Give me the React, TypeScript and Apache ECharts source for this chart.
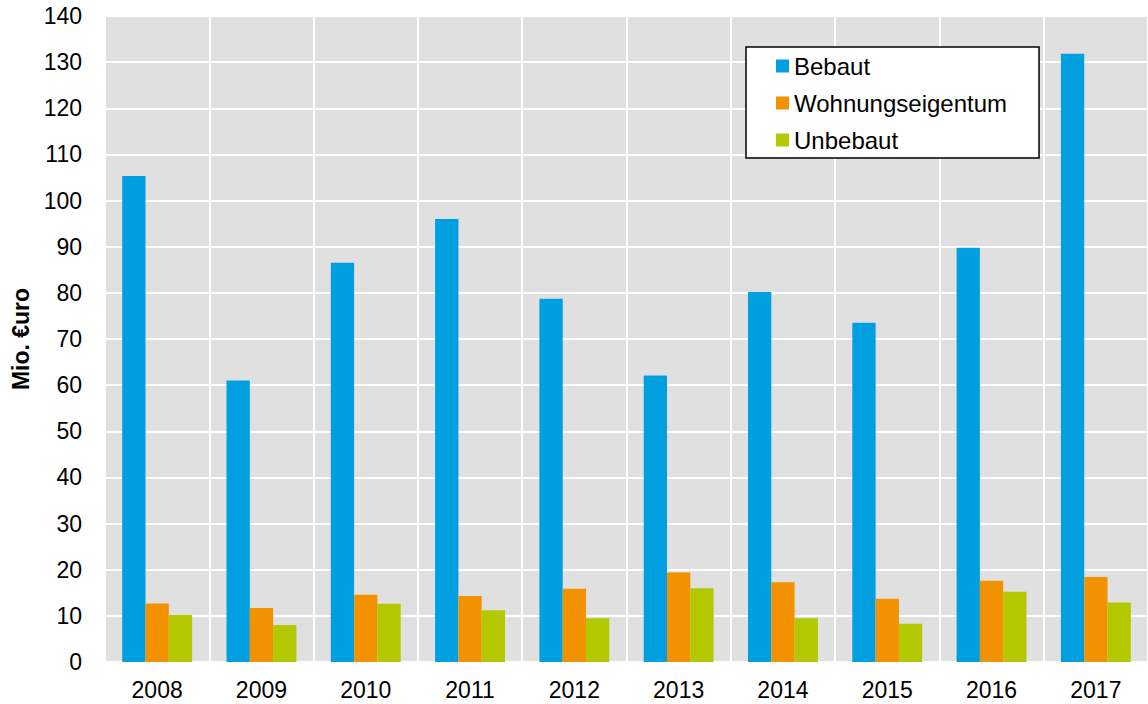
import React, { useEffect, useRef } from "react";
import * as echarts from "echarts";

const years = ["2008", "2009", "2010", "2011", "2012", "2013", "2014", "2015", "2016", "2017"];
const bebaut = [105.3, 61.0, 86.5, 96.0, 78.7, 62.1, 80.2, 73.5, 89.8, 131.8];
const wohnungseigentum = [12.7, 11.7, 14.6, 14.3, 15.9, 19.4, 17.3, 13.7, 17.6, 18.4];
const unbebaut = [10.2, 8.0, 12.6, 11.2, 9.5, 16.0, 9.5, 8.3, 15.2, 12.9];
const seriesNames = ["Bebaut", "Wohnungseigentum", "Unbebaut"];
const colors = ["#009FDF", "#F39200", "#B3C800"];
const yAxisName = "Mio. €uro";

const FONT = "'Liberation Sans', Arial, Helvetica, sans-serif";

export default function App() {
  const ref = useRef<HTMLDivElement>(null);
  useEffect(() => {
    if (!ref.current) return;
    const chart = echarts.init(ref.current, undefined, { renderer: "svg" });
    const data = [bebaut, wohnungseigentum, unbebaut];
    chart.setOption({
      animation: false,
      backgroundColor: "#ffffff",
      textStyle: { fontFamily: FONT },
      grid: {
        left: 105,
        right: 0,
        top: 16,
        bottom: 42,
        show: true,
        backgroundColor: "#E0E0E0",
        borderWidth: 0,
        containLabel: false,
      },
      legend: {
        orient: "vertical",
        left: 746,
        top: 47,
        data: seriesNames,
        icon: "rect",
        itemWidth: 13,
        itemHeight: 13,
        itemGap: 13,
        padding: [7, 32, 6, 30],
        backgroundColor: "#ffffff",
        borderColor: "#000000",
        borderWidth: 1.5,
        borderRadius: 0,
        textStyle: { fontFamily: FONT, fontSize: 24, color: "#000", lineHeight: 24 },
      },
      xAxis: {
        type: "category",
        data: years,
        boundaryGap: true,
        axisLine: { show: false },
        axisTick: { show: false },
        axisLabel: { fontFamily: FONT, fontSize: 23, color: "#000", margin: 16 },
        splitLine: { show: true, lineStyle: { color: "#ffffff", width: 2 } },
      },
      yAxis: {
        type: "value",
        min: 0,
        max: 140,
        interval: 10,
        name: yAxisName,
        nameLocation: "middle",
        nameRotate: 90,
        nameGap: 72,
        nameTextStyle: { fontFamily: FONT, fontSize: 23, fontWeight: "bold", color: "#000" },
        axisLine: { show: false },
        axisTick: { show: false },
        axisLabel: { fontFamily: FONT, fontSize: 23, color: "#000", margin: 23 },
        splitLine: { show: true, lineStyle: { color: "#ffffff", width: 2 } },
      },
      series: seriesNames.map((name, i) => ({
        name,
        type: "bar",
        data: data[i],
        barGap: "0%",
        barCategoryGap: "33%",
        itemStyle: { color: colors[i] },
      })),
    });
    return () => chart.dispose();
  }, []);
  return (
    <div
      ref={ref}
      style={{ position: "fixed", left: 0, top: 0, width: 1148, height: 704 }}
    />
  );
}
